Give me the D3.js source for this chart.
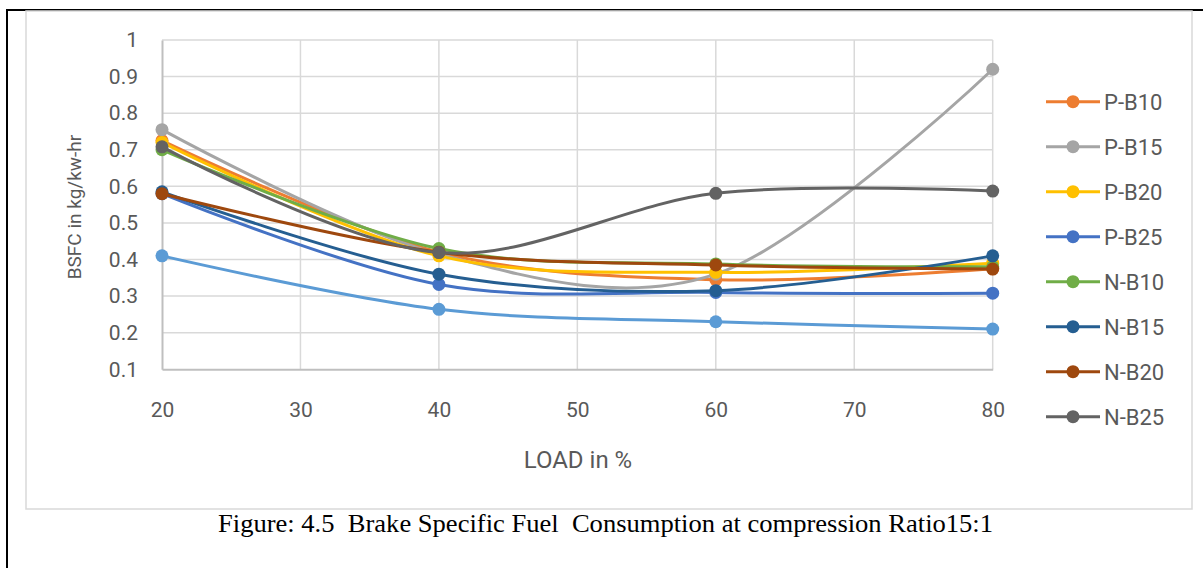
<!DOCTYPE html>
<html>
<head>
<meta charset="utf-8">
<script src="https://cdn.jsdelivr.net/npm/d3@7"></script>
<style>
  html, body { margin: 0; padding: 0; background: #fff; }
  svg { display: block; }
</style>
</head>
<body>
<svg width="1203" height="568"></svg>
<script>
const loads = [20, 40, 60, 80];
const xTicks = [20, 30, 40, 50, 60, 70, 80];
const yTicks = [0.1, 0.2, 0.3, 0.4, 0.5, 0.6, 0.7, 0.8, 0.9, 1];

const seriesNames = ['P-B10', 'P-B15', 'P-B20', 'P-B25', 'N-B10', 'N-B15', 'N-B20', 'N-B25'];
const pB10 = [0.725, 0.42, 0.345, 0.375];
const pB15 = [0.755, 0.415, 0.36, 0.92];
const pB20 = [0.72, 0.41, 0.365, 0.39];
const pB25 = [0.58, 0.332, 0.31, 0.308];
const nB10 = [0.70, 0.43, 0.388, 0.38];
const nB15 = [0.585, 0.36, 0.315, 0.41];
const nB20 = [0.58, 0.42, 0.385, 0.374];
const nB25 = [0.708, 0.419, 0.581, 0.587];
// extra series in the plot that has no legend entry
const unnamed = [0.41, 0.264, 0.23, 0.21];

const colors = ['#ED7D31', '#A5A5A5', '#FFC000', '#4472C4', '#70AD47', '#255E91', '#9E480E', '#636363'];
const unnamedColor = '#5B9BD5';

class BsfcChart {
  constructor(d3) {
    this.d3 = d3;
    this.svg = d3.select('svg');
    this.x = d3.scaleLinear().domain([20, 80]).range([162, 992.7]);
    this.y = d3.scaleLinear().domain([0.1, 1]).range([369.3, 40]);
    this.font = 'Roboto, "Liberation Sans", sans-serif';
    this.text = '#595959';
  }

  draw() {
    this.drawFrames();
    this.drawGrid();
    this.drawAxes();
    const all = [{ name: null, values: unnamed, color: unnamedColor }]
      .concat(seriesNames.map((n, i) => ({
        name: n,
        values: [pB10, pB15, pB20, pB25, nB10, nB15, nB20, nB25][i],
        color: colors[i]
      })));
    all.forEach(this.drawSeries.bind(this));
    this.drawLegend(all.filter(s => s.name));
    this.drawCaption();
  }

  drawFrames() {
    // outer black page frame
    this.svg.append('path')
      .attr('d', 'M7,568 V10 H1203')
      .attr('fill', 'none').attr('stroke', '#000').attr('stroke-width', 2);
    // chart area
    this.svg.append('rect')
      .attr('x', 26).attr('y', 11).attr('width', 1166).attr('height', 498)
      .attr('fill', '#fff').attr('stroke', '#D9D9D9').attr('stroke-width', 1.5);
  }

  drawGrid() {
    const g = this.svg.append('g');
    g.selectAll('.hg').data(yTicks.slice(1)).join('line')
      .attr('x1', this.x(20)).attr('x2', this.x(80))
      .attr('y1', d => this.y(d)).attr('y2', d => this.y(d))
      .attr('stroke', '#D9D9D9').attr('stroke-width', 1.5);
    g.selectAll('.vg').data(xTicks.slice(1)).join('line')
      .attr('x1', d => this.x(d)).attr('x2', d => this.x(d))
      .attr('y1', this.y(0.1)).attr('y2', this.y(1))
      .attr('stroke', '#D9D9D9').attr('stroke-width', 1.5);
  }

  drawAxes() {
    const xAxis = this.svg.append('g')
      .attr('transform', `translate(0,${this.y(0.1)})`)
      .call(this.d3.axisBottom(this.x).tickValues(xTicks).tickSize(0).tickPadding(33));
    xAxis.select('.domain').attr('stroke', '#BFBFBF').attr('stroke-width', 2);
    xAxis.selectAll('text').attr('font-family', this.font).attr('font-size', 21).attr('fill', this.text);

    const yAxis = this.svg.append('g')
      .attr('transform', `translate(${this.x(20)},0)`)
      .call(this.d3.axisLeft(this.y).tickValues(yTicks).tickFormat(d3.format('~g')).tickSize(0).tickPadding(24));
    yAxis.select('.domain').attr('stroke', '#BFBFBF').attr('stroke-width', 2);
    yAxis.selectAll('text').attr('font-family', this.font).attr('font-size', 21).attr('fill', this.text);

    this.svg.append('text')
      .attr('x', 578).attr('y', 468)
      .attr('text-anchor', 'middle')
      .attr('font-family', this.font).attr('font-size', 24).attr('fill', this.text)
      .text('LOAD in %');

    this.svg.append('text')
      .attr('transform', 'translate(81,207) rotate(-90)')
      .attr('text-anchor', 'middle')
      .attr('font-family', this.font).attr('font-size', 19).attr('fill', this.text)
      .text('BSFC in kg/kw-hr');
  }

  drawSeries(s) {
    const line = this.d3.line()
      .x((d, i) => this.x(loads[i]))
      .y(d => this.y(d))
      .curve(this.d3.curveCatmullRom.alpha(0));
    const g = this.svg.append('g');
    g.append('path')
      .attr('d', line(s.values))
      .attr('fill', 'none').attr('stroke', s.color).attr('stroke-width', 3)
      .attr('stroke-linecap', 'round');
    g.selectAll('circle').data(s.values).join('circle')
      .attr('cx', (d, i) => this.x(loads[i]))
      .attr('cy', d => this.y(d))
      .attr('r', 6.5)
      .attr('fill', s.color);
  }

  drawLegend(items) {
    const g = this.svg.append('g');
    const row = g.selectAll('g').data(items).join('g')
      .attr('transform', (d, i) => `translate(0,${101.7 + i * 45})`);
    row.append('line')
      .attr('x1', 1046).attr('x2', 1100)
      .attr('stroke', d => d.color).attr('stroke-width', 3);
    row.append('circle')
      .attr('cx', 1073).attr('r', 6.5)
      .attr('fill', d => d.color);
    row.append('text')
      .attr('x', 1104).attr('dy', '0.36em')
      .attr('font-family', this.font).attr('font-size', 22).attr('fill', this.text)
      .text(d => d.name);
  }

  drawCaption() {
    this.svg.append('text')
      .attr('x', 218).attr('y', 532)
      .attr('font-family', '"Liberation Serif", "Times New Roman", serif')
      .attr('font-size', 26).attr('fill', '#000')
      .attr('textLength', 775).attr('lengthAdjust', 'spacingAndGlyphs')
      .style('white-space', 'pre')
      .text('Figure: 4.5  Brake Specific Fuel  Consumption at compression Ratio15:1');
  }
}

new BsfcChart(d3).draw();
</script>
</body>
</html>
